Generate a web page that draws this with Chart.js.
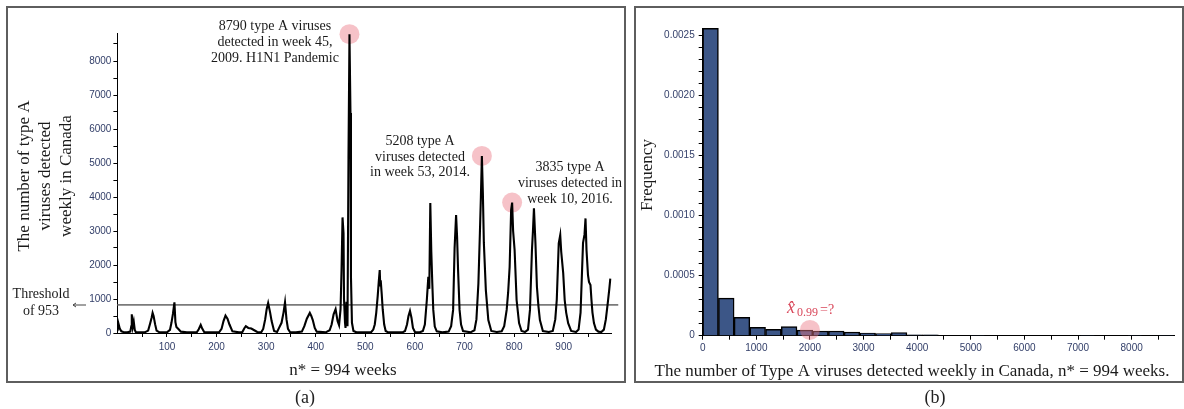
<!DOCTYPE html>
<html>
<head>
<meta charset="utf-8">
<script src="https://cdn.jsdelivr.net/npm/chart.js@4.4.1/dist/chart.umd.min.js"></script>
<style>
  body { margin: 0; background: #fff; width: 1184px; height: 409px; position: relative; overflow: hidden; font-family: 'Liberation Serif', serif; }
  .box { position: absolute; border: 2px solid #5e5e5e; box-sizing: border-box; }
  #boxA { left: 6px; top: 6px; width: 620px; height: 377px; }
  #boxB { left: 634px; top: 6px; width: 550px; height: 377px; }
  canvas { position: absolute; top: 0; }
  #chartA { left: 0; }
  #chartB { left: 630px; }
  .panel { position: absolute; top: 387px; width: 40px; text-align: center; font-size: 18px; line-height: 20px; color: #222; }
</style>
</head>
<body>
<div class="box" id="boxA"></div>
<div class="box" id="boxB"></div>
<canvas id="chartA" width="630" height="390"></canvas>
<canvas id="chartB" width="554" height="390"></canvas>
<div class="panel" style="left:285px">(a)</div>
<div class="panel" style="left:915px">(b)</div>
<script>
// (a) weekly type A detections
var weeks = [0, 2, 3, 5, 8, 12, 20,
  26, 28, 29, 31, 33, 35, 37, 45,
  55, 62, 66, 69, 71, 73, 76, 79, 85,
  100, 106, 109, 112, 115, 117, 119, 123, 128, 140,
  160, 164, 168, 171, 175, 190,
  205, 210, 214, 218, 222, 226, 232, 245,
  252, 256, 259, 264, 270, 276, 282, 290,
  294, 298, 301, 304, 308, 311, 316, 322,
  326, 331, 335, 338, 341, 344, 348, 360,
  372, 377, 382, 388, 391, 394, 398, 402, 420,
  428, 432, 436, 440, 444, 447, 450, 452, 454, 456, 457, 459, 460, 462, 464, 466, 468, 470, 471, 473, 476, 482, 500,
  512, 516, 519, 522, 525, 527, 529, 530, 531, 533, 535, 538, 541, 546, 560,
  575, 580, 584, 587, 590, 593, 596, 600, 610,
  616, 620, 624, 627, 629, 631, 633, 635, 637, 640, 644, 655,
  668, 673, 677, 680, 683, 685, 687, 690, 693, 697, 712,
  720, 724, 728, 731, 733, 735, 737, 739, 743, 748, 754, 765,
  775, 780, 785, 788, 791, 794, 796, 798, 801, 805, 810, 815, 822,
  828, 832, 836, 838, 840, 843, 846, 849, 852, 858, 870,
  878, 883, 886, 890, 893, 895, 899, 902, 905, 909, 915, 925,
  930, 934, 939, 942, 944, 946, 949, 951, 954, 956, 958, 961, 965, 970, 976,
  981, 985, 989, 992, 994];
var cases = [60, 190, 230, 120, 50, 30, 20,
  40, 200, 550, 180, 330, 90, 30, 20,
  20, 70, 280, 450, 590, 500, 260, 70, 20,
  20, 90, 300, 560, 900, 320, 180, 120, 40, 20,
  20, 110, 240, 130, 30, 20,
  20, 120, 350, 510, 420, 250, 50, 20,
  30, 140, 200, 150, 130, 80, 30, 20,
  120, 400, 700, 880, 600, 350, 60, 30,
  150, 300, 600, 900, 400, 120, 30, 20,
  40, 200, 420, 590, 500, 380, 150, 40, 20,
  80, 250, 550, 700, 350, 230, 700, 1850, 3400, 2940, 1000, 300, 150, 920, 200, 5150, 8790, 6470, 1650, 300, 60, 20, 20,
  30, 100, 250, 600, 1100, 1500, 1850, 1400, 1550, 1150, 700, 250, 60, 20, 20,
  20, 60, 250, 500, 650, 450, 150, 30, 20,
  60, 250, 970, 1650, 1300, 3820, 2400, 1470, 680, 190, 50, 20,
  40, 200, 680, 2500, 3470, 2830, 1850, 680, 250, 60, 20,
  80, 400, 1460, 2940, 4000, 5208, 4120, 2650, 1260, 380, 60, 30,
  50, 200, 680, 1200, 1950, 3620, 3835, 3000, 2440, 970, 290, 60, 30,
  100, 680, 2440, 3000, 3670, 2650, 1360, 800, 380, 60, 30,
  60, 400, 970, 2640, 2880, 2390, 1760, 970, 600, 290, 60, 30,
  100, 600, 2650, 2900, 3370, 2440, 1700, 1500, 1410, 970, 600, 290, 100, 40, 30,
  100, 400, 900, 1300, 1600];
var peakWeeks = [468, 735, 796];
var peakCases = [8790, 5208, 3835];
var thresholdWeeks = [0, 1010];
var thresholdLevel = 830;
var weekTicks = [50, 100, 150, 200, 250, 300, 350, 400, 450, 500, 550, 600, 650, 700, 750, 800, 850, 900, 950];
var caseTicks = [0, 500, 1000, 1500, 2000, 2500, 3000, 3500, 4000, 4500, 5000, 5500, 6000, 6500, 7000, 7500, 8000, 8500];

// (b) histogram
var binStart = [0, 293, 586, 879, 1172, 1465, 1758, 2051, 2344, 2637, 2930, 3223, 3516, 3809, 4102,
  4395, 4688, 4981, 5274, 5567, 5860, 6153, 6446, 6739, 7032, 7325, 7618, 7911, 8204, 8497];
var binWidth = 293;
var binFreq = [0.00256, 0.000313, 0.000154, 0.00007, 0.000053, 0.000075, 0.000047, 0.000039, 0.000039, 0.000031,
  0.000022, 0.000017, 0.000025, 0.000007, 0.000007, 0, 0, 0.0000034, 0, 0,
  0, 0, 0, 0, 0.0000034, 0, 0, 0.0000034, 0, 0.0000034];
var valueTicks = [0, 500, 1000, 1500, 2000, 2500, 3000, 3500, 4000, 4500, 5000, 5500, 6000, 6500, 7000, 7500, 8000, 8500];
var freqTicks = [0, 0.0001, 0.0002, 0.0003, 0.0004, 0.0005, 0.0006, 0.0007, 0.0008, 0.0009, 0.001, 0.0011, 0.0012,
  0.0013, 0.0014, 0.0015, 0.0016, 0.0017, 0.0018, 0.0019, 0.002, 0.0021, 0.0022, 0.0023, 0.0024, 0.0025];
var quantileX = [2000];
var quantileY = [0.000048];

Chart.defaults.font.family = "'Liberation Sans', sans-serif";
var tickColor = '#34406a';
var pink = 'rgba(234,120,132,0.45)';
var serif = "'Liberation Serif', serif";

function setTicks(list) {
  return function(scale) { scale.ticks = list.map(function(v) { return { value: v }; }); };
}
function text(ctx, s, x, y, size, align) {
  ctx.font = size + 'px ' + serif;
  ctx.textAlign = align || 'center';
  ctx.fillText(s, x, y);
}
function vtext(ctx, s, x, y, size) {
  ctx.save();
  ctx.translate(x, y);
  ctx.rotate(-Math.PI / 2);
  text(ctx, s, 0, 0, size);
  ctx.restore();
}

var labelsA = {
  id: 'labelsA',
  afterDraw: function(chart) {
    var ctx = chart.ctx;
    ctx.save();
    ctx.fillStyle = '#1a1a1a';
    ctx.textBaseline = 'middle';
    vtext(ctx, 'The number of type A', 25, 176, 17);
    vtext(ctx, 'viruses detected', 46, 176, 17);
    vtext(ctx, 'weekly in Canada', 67, 176, 17);
    text(ctx, 'n* = 994 weeks', 343, 371, 17);
    text(ctx, 'Threshold', 41, 294, 14);
    text(ctx, 'of 953', 41, 311, 14);
    ctx.strokeStyle = '#444';
    ctx.lineWidth = 1;
    ctx.beginPath();
    ctx.moveTo(86, 305); ctx.lineTo(73, 305);
    ctx.moveTo(76, 303); ctx.lineTo(73, 305); ctx.lineTo(76, 307);
    ctx.stroke();
    text(ctx, '8790 type A viruses', 275, 26, 14);
    text(ctx, 'detected in week 45,', 275, 42, 14);
    text(ctx, '2009. H1N1 Pandemic', 275, 58, 14);
    text(ctx, '5208 type A', 420, 141.5, 14);
    text(ctx, 'viruses detected', 420, 157, 14);
    text(ctx, 'in week 53, 2014.', 420, 172.5, 14);
    text(ctx, '3835 type A', 570, 167, 14);
    text(ctx, 'viruses detected in', 570, 183, 14);
    text(ctx, 'week 10, 2016.', 570, 199, 14);
    ctx.restore();
  }
};

new Chart(document.getElementById('chartA'), {
  type: 'line',
  data: {
    datasets: [{
      data: weeks.map(function(w, i) { return { x: w, y: cases[i] }; }),
      borderColor: '#000', borderWidth: 2.1, pointRadius: 0, tension: 0, order: 1
    }, {
      data: thresholdWeeks.map(function(w) { return { x: w, y: thresholdLevel }; }),
      borderColor: '#7a7a7a', borderWidth: 1.8, pointRadius: 0, clip: false, order: 2
    }, {
      type: 'scatter',
      data: peakWeeks.map(function(w, i) { return { x: w, y: peakCases[i] }; }),
      pointRadius: 10, backgroundColor: pink, borderWidth: 0, clip: false, order: 3
    }]
  },
  options: {
    responsive: false,
    animation: false,
    layout: { padding: { left: 57.4, right: 18.2, top: 33.8, bottom: 27 } },
    plugins: { legend: { display: false }, tooltip: { enabled: false } },
    scales: {
      x: {
        type: 'linear', min: 0, max: 997,
        afterBuildTicks: setTicks(weekTicks),
        afterFit: function(s) { s.height = 30; },
        ticks: { autoSkip: false, maxRotation: 0, padding: 4, color: tickColor, font: { size: 10 },
          callback: function(v) { return v % 100 === 0 ? String(v) : ''; } },
        grid: { drawOnChartArea: false, tickLength: 4, color: '#000' },
        border: { color: '#000', width: 1 }
      },
      y: {
        min: 0, max: 8800,
        afterBuildTicks: setTicks(caseTicks),
        afterFit: function(s) { s.width = 60; },
        ticks: { autoSkip: false, padding: 2, color: tickColor, font: { size: 10 },
          callback: function(v) { return v % 1000 === 0 ? String(v) : ''; } },
        grid: { drawOnChartArea: false, tickLength: 4, color: '#000' },
        border: { color: '#000', width: 1 }
      }
    }
  },
  plugins: [labelsA]
});

var labelsB = {
  id: 'labelsB',
  afterDraw: function(chart) {
    var ctx = chart.ctx;
    ctx.save();
    ctx.fillStyle = '#1a1a1a';
    ctx.textBaseline = 'middle';
    vtext(ctx, 'Frequency', 18, 175, 17);
    text(ctx, 'The number of Type A viruses detected weekly in Canada, n* = 994 weeks.', 282, 372, 17);
    ctx.fillStyle = '#d9475a';
    ctx.textBaseline = 'alphabetic';
    ctx.font = 'italic 18px ' + serif;
    ctx.textAlign = 'left';
    ctx.fillText('x\u0302', 157, 313);
    text(ctx, '0.99', 167, 316, 12, 'left');
    text(ctx, '=?', 190, 314, 14, 'left');
    ctx.restore();
  }
};

new Chart(document.getElementById('chartB'), {
  type: 'bar',
  data: {
    datasets: [{
      type: 'scatter',
      data: quantileX.map(function(x, i) { return { x: x, y: quantileY[i] }; }),
      pointRadius: 10, backgroundColor: pink, borderWidth: 0, clip: false, order: 0
    }, {
      data: binStart.map(function(b, i) { return { x: b + binWidth / 2, y: binFreq[i] }; }),
      backgroundColor: '#3c5687', borderColor: '#000', borderWidth: 1.5,
      barPercentage: 1, categoryPercentage: 1, clip: false, order: 1
    }]
  },
  options: {
    responsive: false,
    animation: false,
    layout: { padding: { left: 12.7, right: 7, top: 28.3, bottom: 24.3 } },
    plugins: { legend: { display: false }, tooltip: { enabled: false } },
    scales: {
      x: {
        type: 'linear', min: 0, max: 8790, offset: false,
        afterBuildTicks: setTicks(valueTicks),
        afterFit: function(s) { s.height = 30; },
        ticks: { autoSkip: false, maxRotation: 0, padding: 3, color: tickColor, font: { size: 10 },
          callback: function(v) { return v % 1000 === 0 ? String(v) : ''; } },
        grid: { offset: false, drawOnChartArea: false, tickLength: 4, color: '#000' },
        border: { color: '#000', width: 1 }
      },
      y: {
        min: 0, max: 0.00256,
        afterBuildTicks: setTicks(freqTicks),
        afterFit: function(s) { s.width = 60; },
        ticks: { autoSkip: false, padding: 4, color: tickColor, font: { size: 10 },
          callback: function(v) {
            var k = Math.round(v * 10000);
            if (k % 5 !== 0) return '';
            return k === 0 ? '0' : v.toFixed(4);
          } },
        grid: { drawOnChartArea: false, tickLength: 4, color: '#000' },
        border: { color: '#000', width: 1 }
      }
    }
  },
  plugins: [labelsB]
});
</script>
</body>
</html>
